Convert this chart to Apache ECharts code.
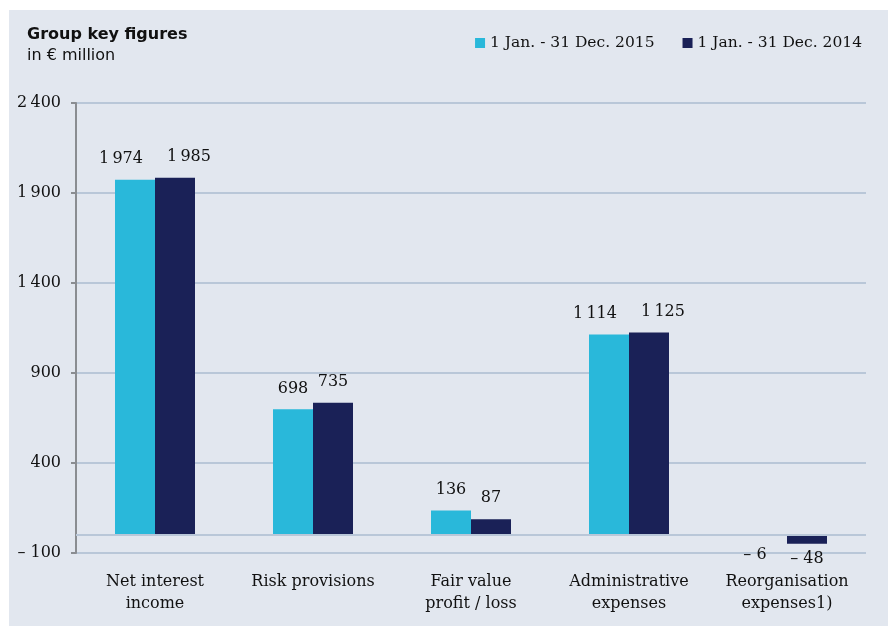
<!DOCTYPE html>
<html>
<head>
<meta charset="utf-8">
<script src="https://cdn.jsdelivr.net/npm/echarts@6/dist/echarts.min.js"></script>
<style>
  html, body { margin: 0; padding: 0; background: #ffffff; }
  #chart { position: absolute; left: 9px; top: 10px; width: 879px; height: 616px; background: #e2e7ef; }
</style>
</head>
<body>
<div id="chart"></div>
<script>
// 数据
var categories = ['Net interest\nincome', 'Risk provisions', 'Fair value\nprofit / loss', 'Administrative\nexpenses', 'Reorganisation\nexpenses1)'];
var values2015 = [1974, 698, 136, 1114, -6];
var values2014 = [1985, 735, 87, 1125, -48];
var seriesNames = ['1 Jan. - 31 Dec. 2015', '1 Jan. - 31 Dec. 2014'];

var serif = '"DejaVu Serif", serif';

// 数字格式：千位窄空格，负号用长破折号
function fmt(v) {
	var s = String(Math.abs(v)).replace(/\B(?=(\d{3})+(?!\d))/g, '\u2009');
	return v < 0 ? '\u2013 ' + s : s;
}

// side: -1 左侧柱, 1 右侧柱 (宽标签向外错开)
function makeData(arr, side) {
	return arr.map(function(v) {
		var lbl = {};
		if (Math.abs(v) >= 1000) {
			lbl.offset = [side * 14, 0];
		}
		if (v < 0) {
			lbl.position = 'bottom';
			lbl.distance = side < 0 ? 11 : 7;
			if (side < 0) lbl.offset = [-12, 0];
		}
		return { value: v, label: lbl };
	});
}

var myChart = echarts.init(document.getElementById('chart'));
var option = {
	backgroundColor: 'transparent',
	title: [
		{
			text: 'Group key figures',
			left: 18,
			top: 17,
			padding: 0,
			textStyle: { fontFamily: '"DejaVu Sans"', fontWeight: 'bold', fontSize: 16, color: '#111' }
		},
		{
			text: 'in € million',
			left: 18,
			top: 38,
			padding: 0,
			textStyle: { fontFamily: '"DejaVu Sans"', fontWeight: 'normal', fontSize: 16, color: '#111' }
		}
	],
	legend: {
		right: 26,
		top: 25,
		padding: 0,
		itemWidth: 10,
		itemHeight: 10,
		itemGap: 28,
		icon: 'rect',
		textStyle: { fontFamily: serif, fontSize: 15.5, color: '#111' },
		data: seriesNames
	},
	grid: { left: 67, right: 22, top: 93, bottom: 73 },
	xAxis: {
		type: 'category',
		data: categories,
		axisLine: { show: false },
		axisTick: { show: false },
		axisLabel: { interval: 0, fontFamily: serif, fontSize: 16, color: '#111', margin: 18, lineHeight: 22 }
	},
	yAxis: {
		type: 'value',
		min: -100,
		max: 2400,
		interval: 500,
		axisLine: { show: true, lineStyle: { color: '#8a8d91', width: 2 } },
		axisTick: { show: true, length: 5, lineStyle: { color: '#8a8d91', width: 2 } },
		splitLine: { lineStyle: { color: '#b9c7d8', width: 2 } },
		axisLabel: {
			fontFamily: serif, fontSize: 16, color: '#111', margin: 15,
			formatter: function(v) { return fmt(v); }
		}
	},
	series: [
		{
			name: seriesNames[0],
			type: 'bar',
			barWidth: 40,
			barGap: '0%',
			itemStyle: { color: '#29b8da' },
			label: {
				show: true, position: 'top', distance: 13,
				fontFamily: serif, fontSize: 16, color: '#111',
				formatter: function(p) { return fmt(p.value); }
			},
			data: makeData(values2015, -1),
			markLine: {
				silent: true,
				symbol: 'none',
				label: { show: false },
				lineStyle: { color: '#b9c7d8', width: 2, type: 'solid' },
				data: [{ yAxis: 0 }]
			}
		},
		{
			name: seriesNames[1],
			type: 'bar',
			barWidth: 40,
			itemStyle: { color: '#1a2157' },
			label: {
				show: true, position: 'top', distance: 13,
				fontFamily: serif, fontSize: 16, color: '#111',
				formatter: function(p) { return fmt(p.value); }
			},
			data: makeData(values2014, 1)
		}
	]
};
option && myChart.setOption(option);
</script>
</body>
</html>
